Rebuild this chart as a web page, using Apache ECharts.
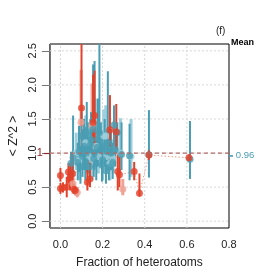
<!DOCTYPE html>
<html><head><meta charset="utf-8">
<script src="https://cdn.jsdelivr.net/npm/echarts@6/dist/echarts.min.js"></script>
<style>html,body{margin:0;padding:0;background:#fff}#c{width:274px;height:274px}</style>
</head><body><div id="c"></div>
<script>
// ---- data ----
const xTicks = [0, 0.2, 0.4, 0.6, 0.8];
const xTickLabels = ['0.0', '0.2', '0.4', '0.6', '0.8'];
const yTicks = [0, 0.5, 1.0, 1.5, 2.0, 2.5];
const yTickLabels = ['0.0', '0.5', '1.0', '1.5', '2.0', '2.5'];
const refValue = 1;
const meanValue = 0.96;
const meanLabel = '0.96';

// teal (strong) : x, mean, low, high
const tealX  = [0.05,0.06,0.082,0.088,0.095,0.10,0.105,0.112,0.118,0.122,0.125,0.13,0.138,0.142,0.145,0.155,0.158,0.162,0.17,0.175,0.178,0.185,0.192,0.197,0.20,0.21,0.216,0.222,0.225,0.23,0.24,0.248,0.254,0.26,0.27,0.29,0.328,0.42,0.615];
const tealY  = [0.85,0.93,0.86,1.02,0.80,1.25,0.95,1.10,0.88,1.00,1.30,1.05,0.80,1.12,1.20,1.35,0.92,1.00,0.85,1.08,1.20,1.30,1.05,0.82,0.90,1.10,0.74,1.02,1.15,0.79,1.00,0.86,1.41,1.05,1.30,0.98,0.96,0.975,0.91];
const tealLo = [0.62,0.65,0.60,0.72,0.55,0.90,0.65,0.75,0.60,0.72,0.95,0.70,0.55,0.80,0.85,0.95,0.65,0.75,0.60,0.80,0.85,0.90,0.80,0.58,0.60,0.80,0.55,0.75,0.85,0.60,0.75,0.62,1.10,0.80,1.00,0.75,0.60,0.64,0.62];
const tealHi = [1.02,1.55,1.15,1.40,1.10,1.60,1.35,1.50,1.25,1.38,1.75,1.45,1.10,1.50,1.60,2.30,1.30,2.35,1.20,1.45,1.80,2.70,1.45,1.12,1.30,1.50,1.00,1.35,2.20,1.15,1.35,1.15,1.70,1.35,1.45,1.45,1.43,1.63,1.47];
// teal (faint)
const tealFX  = [0.075,0.092,0.12,0.135,0.15,0.168,0.18,0.205,0.215,0.22,0.235,0.25,0.285,0.335];
const tealFY  = [1.00,0.90,1.15,0.95,0.90,1.10,0.95,1.25,1.25,0.95,0.85,0.92,1.00,0.95];
const tealFLo = [0.75,0.60,0.80,0.70,0.60,0.80,0.70,0.95,0.90,0.70,0.60,0.70,0.75,0.65];
const tealFHi = [1.30,1.30,1.55,1.30,1.35,1.80,1.40,1.64,1.70,1.30,1.15,1.20,1.51,1.50];
// red (strong)
const redX  = [0.0,0.0,0.012,0.03,0.038,0.046,0.057,0.065,0.07,0.10,0.128,0.14,0.155,0.162,0.235,0.265,0.272,0.28,0.35,0.375,0.42,0.61];
const redY  = [0.67,0.48,0.49,0.50,0.72,0.64,0.70,0.47,0.45,1.66,0.57,0.62,1.45,1.55,1.34,1.31,0.73,0.68,0.73,0.41,0.97,0.93];
const redLo = [0.58,0.40,0.42,0.35,0.55,0.45,0.50,0.40,0.38,1.40,0.45,0.50,1.20,1.06,1.10,1.05,0.45,0.50,0.60,0.36,0.90,0.88];
const redHi = [0.78,0.56,0.57,0.65,0.85,0.85,0.98,0.55,0.52,2.70,0.75,0.90,2.15,2.21,1.85,1.72,1.00,0.95,0.87,0.70,1.04,0.98];
// red (faint)
const redFX  = [0.06,0.08,0.098,0.15,0.296];
const redFY  = [0.55,0.42,1.45,1.40,0.47];
const redFLo = [0.40,0.35,1.10,1.20,0.38];
const redFHi = [0.75,0.50,2.22,2.02,0.62];

// ---- chart ----
const Y_MIN = -0.1, Y_MAX = 2.6, X_MIN = -0.05, X_MAX = 0.8;
const FONT = 'Liberation Sans, Arial, sans-serif';
const C_TEAL = '#4a9db3', C_TEAL_F = '#9fcfdc', C_RED = '#e2412a', C_RED_F = '#eea395';

function bars(xs, lo, hi) { return xs.map((x, i) => [x, lo[i], hi[i]]); }
function pts(xs, ys) { return xs.map((x, i) => [x, ys[i]]); }
function barSeries(name, data, color, w) {
  return {
    type: 'custom', name, data, z: 3, silent: true,
    encode: { x: 0, y: [1, 2] },
    renderItem: function (params, api) {
      const x = api.value(0);
      const lo = Math.max(api.value(1), Y_MIN), hi = Math.min(api.value(2), Y_MAX);
      const a = api.coord([x, lo]), b = api.coord([x, hi]);
      return { type: 'line', shape: { x1: a[0], y1: a[1], x2: b[0], y2: b[1] },
               style: { stroke: color, lineWidth: w } };
    }
  };
}
// reference/grid lines: [orientation(0=vertical,1=horizontal), value]
function guideSeries(data, color, dash, w, z) {
  return {
    type: 'custom', data, z, silent: true, encode: { x: 1, y: 1 },
    renderItem: function (params, api) {
      const o = api.value(0), v = api.value(1);
      let a, b;
      if (o === 0) { a = api.coord([v, Y_MIN]); b = api.coord([v, Y_MAX]); }
      else { a = api.coord([X_MIN, v]); b = api.coord([X_MAX, v]); }
      return { type: 'line', shape: { x1: a[0], y1: a[1], x2: b[0], y2: b[1] },
               style: { stroke: color, lineWidth: w, lineDash: dash } };
    }
  };
}
const gridData = xTicks.filter(v => v < X_MAX).map(v => [0, v]).concat(yTicks.map(v => [1, v]));
const redSorted = pts(redX, redY).slice().sort((a, b) => a[0] - b[0]);

const chart = echarts.init(document.getElementById('c'), null, { renderer: 'canvas' });
chart.setOption({
  animation: false,
  textStyle: { fontFamily: FONT },
  grid: { left: 44, top: 44, right: 45, bottom: 45, show: true, borderColor: '#000', borderWidth: 1, backgroundColor: 'transparent' },
  xAxis: {
    type: 'value', min: X_MIN, max: X_MAX,
    axisLine: { show: false, onZero: false }, axisTick: { show: false }, splitLine: { show: false },
    axisLabel: { customValues: xTicks, formatter: v => xTickLabels[xTicks.indexOf(Math.round(v * 10) / 10)] ?? '', fontSize: 11, color: '#222', margin: 11, fontFamily: FONT },
    name: 'Fraction of heteroatoms', nameLocation: 'middle', nameGap: 29,
    nameTextStyle: { fontSize: 12, color: '#222', fontFamily: FONT }
  },
  yAxis: [
    {
      type: 'value', min: Y_MIN, max: Y_MAX, position: 'left',
      axisLine: { show: true, onZero: false, lineStyle: { color: '#777', width: 1 } },
      axisTick: { show: true, customValues: yTicks, length: 8, lineStyle: { color: '#777' } },
      splitLine: { show: false },
      axisLabel: { customValues: yTicks, rotate: 90, formatter: v => yTickLabels[yTicks.indexOf(Math.round(v * 10) / 10)] ?? '', fontSize: 11, color: '#222', margin: 11, fontFamily: FONT },
      name: '< Z^2 >', nameLocation: 'middle', nameRotate: 90, nameGap: 22,
      nameTextStyle: { fontSize: 12, color: '#222', fontFamily: FONT }
    },
    {
      type: 'value', min: Y_MIN, max: Y_MAX, position: 'left',
      axisLine: { show: false, onZero: false }, splitLine: { show: false },
      axisTick: { show: true, customValues: [refValue], length: 6, lineStyle: { color: '#8b2a2a', width: 1.2 } },
      axisLabel: { customValues: [refValue], formatter: () => String(refValue), fontSize: 11, color: '#8b1a1a', margin: 7, fontFamily: FONT }
    },
    {
      type: 'value', min: Y_MIN, max: Y_MAX, position: 'right',
      axisLine: { show: false, onZero: false }, splitLine: { show: false },
      axisTick: { show: true, customValues: [meanValue], length: 4, lineStyle: { color: C_TEAL, width: 1.5 } },
      axisLabel: { customValues: [meanValue], formatter: () => '- ' + meanLabel, fontSize: 9.5, color: C_TEAL, margin: 1, fontFamily: FONT }
    }
  ],
  graphic: [
    { type: 'text', left: 216, top: 26, style: { text: '(f)', fontSize: 10, fill: '#222', fontFamily: FONT } },
    { type: 'text', left: 231, top: 38, style: { text: 'Mean', fontSize: 9, fontWeight: 'bold', fill: '#000', fontFamily: FONT } }
  ],
  series: [
    guideSeries(gridData, '#d6d6d6', [2, 2], 1, 1),
    {
      type: 'line', data: redSorted, z: 2, silent: true, symbol: 'none',
      lineStyle: { color: '#ef9a88', type: [1.5, 2], width: 1 }
    },
    barSeries('tealFaint', bars(tealFX, tealFLo, tealFHi), C_TEAL_F, 3),
    barSeries('redFaint', bars(redFX, redFLo, redFHi), C_RED_F, 3),
    barSeries('teal', bars(tealX, tealLo, tealHi), C_TEAL, 2),
    barSeries('red', bars(redX, redLo, redHi), C_RED, 2),
    { type: 'scatter', data: pts(tealFX, tealFY), symbolSize: 7, itemStyle: { color: C_TEAL_F }, z: 4, silent: true },
    { type: 'scatter', data: pts(redFX, redFY), symbolSize: 7, itemStyle: { color: C_RED_F }, z: 4, silent: true },
    { type: 'scatter', data: pts(tealX, tealY), symbolSize: 7, itemStyle: { color: C_TEAL }, z: 5, silent: true },
    { type: 'scatter', data: pts(redX, redY), symbolSize: 7, itemStyle: { color: C_RED }, z: 5, silent: true },
    guideSeries([[1, refValue]], '#b06a66', [4, 3], 1.3, 6)
  ]
});
</script></body></html>
